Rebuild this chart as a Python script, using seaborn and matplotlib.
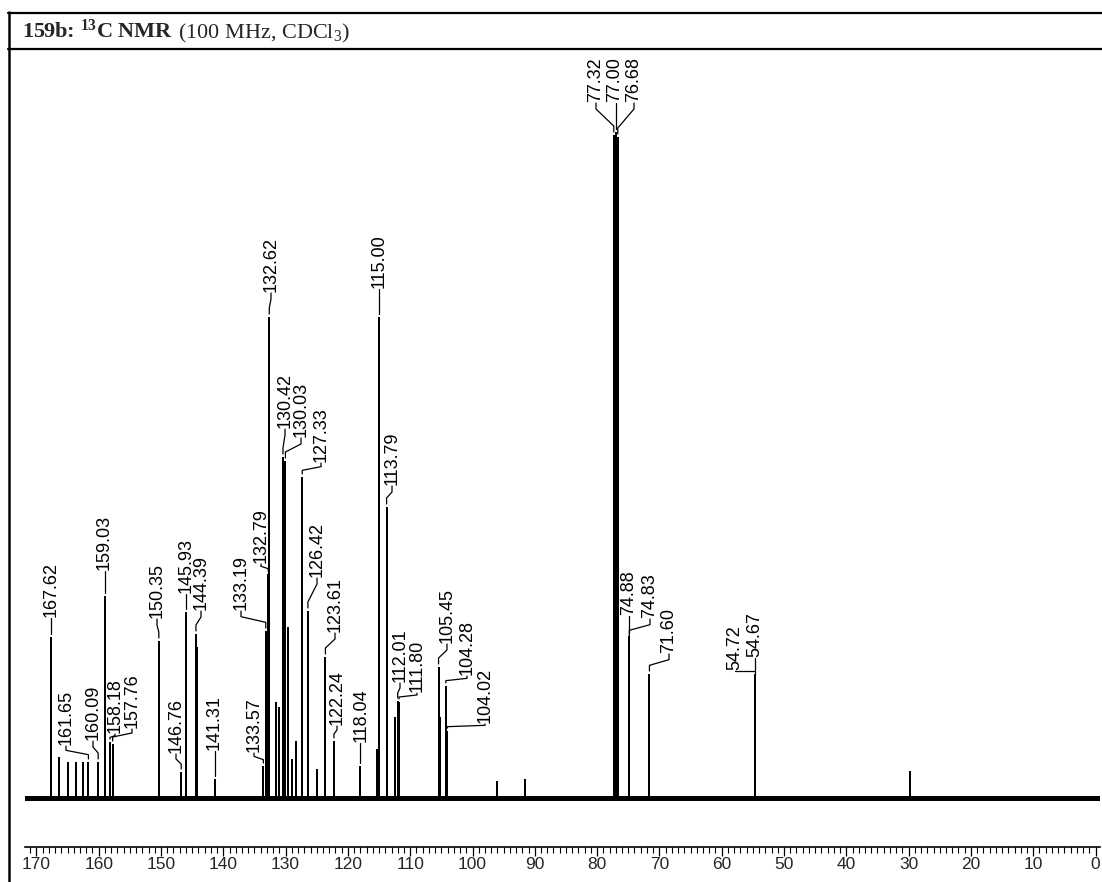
import matplotlib
matplotlib.use("Agg")
import matplotlib.pyplot as plt
import pandas as pd
import seaborn as sns
from matplotlib import font_manager
from matplotlib.lines import Line2D
from matplotlib.ticker import MultipleLocator

# labelled peaks: shift (ppm) and height above the baseline
peak_ppm = [167.62, 161.65, 160.09, 159.03, 158.18, 157.76, 150.35, 146.76,
            145.93, 144.39, 141.31, 133.57, 133.19, 132.79, 132.62, 130.42,
            130.03, 127.33, 126.42, 123.61, 122.24, 118.04, 115.00, 113.79,
            112.01, 111.80, 105.45, 104.28, 104.02, 77.32, 77.00, 76.68,
            74.88, 74.83, 71.60, 54.72, 54.67]
peak_height = [160, 35, 35, 201, 55, 53, 156, 25,
               185, 163, 18, 31, 166, 223, 480, 340,
               336, 320, 186, 140, 56, 31, 480, 290,
               96, 95, 130, 111, 66, 662, 665, 660,
               161, 158, 123, 123, 120]

# small peaks that carry no label
extra_ppm = [166.4, 164.9, 163.6, 162.6, 144.2, 131.6, 131.0, 129.6, 129.0,
             128.3, 125.0, 115.3, 112.5, 105.2, 96.1, 91.6, 29.7]
extra_height = [40, 35, 35, 35, 150, 95, 90, 170, 38,
                56, 28, 48, 80, 80, 16, 18, 26]

spectrum_range = [172.0, -0.8]
major_ticks = list(range(0, 180, 10))

# label layout, in pixels of the 1102x882 picture (text centre x, text bottom y)
label_x_px = [51, 66, 93, 104, 115, 132, 157, 176, 186, 201, 214, 254, 241,
              261, 271, 285, 301, 321, 317, 335, 337, 361, 379, 392, 400, 417,
              447, 467, 485, 596, 615, 634, 629, 650, 669, 735, 755]
label_y_px = [617, 745, 740, 570, 733, 728, 618, 753, 593, 610, 750, 752, 610,
              563, 292, 428, 437, 462, 577, 632, 725, 742, 288, 485, 682, 692,
              643, 675, 723, 102, 102, 102, 615, 618, 653, 670, 657]

W, H = 1102, 882
AX_L, AX_R, AX_B, AX_T = 25, 1100, 847, 50
BASE_PX = 798
PPM0_PX, PX_PER_PPM = 1095.5, 6.23


def px_to_ppm(px):
    return (PPM0_PX - px) / PX_PER_PPM


def px_to_y(py):
    return BASE_PX - py


def pick_font(names):
    for n in names:
        try:
            font_manager.findfont(font_manager.FontProperties(family=n),
                                  fallback_to_default=False)
            return n
        except ValueError:
            pass
    return "DejaVu Sans"


sns.set_theme(style="white")
narrow = pick_font(["Liberation Sans Narrow"])
if narrow == "Liberation Sans Narrow":
    sans, lab_size, tick_size = narrow, 15, 14.5
else:
    sans, lab_size, tick_size = "Liberation Sans", 13, 12.5

plt.rcParams["font.family"] = [sans, "DejaVu Sans"]
plt.rcParams["mathtext.fontset"] = "custom"
plt.rcParams["mathtext.rm"] = "Liberation Serif"
plt.rcParams["mathtext.bf"] = "Liberation Serif:bold"
plt.rcParams["mathtext.it"] = "Liberation Serif:italic"

fig = plt.figure(figsize=(W / 100, H / 100), dpi=100)
ax = fig.add_axes([AX_L / W, (H - AX_B) / H, (AX_R - AX_L) / W, (AX_B - AX_T) / H])

# stick spectrum built from the peak lists
all_peaks = sorted(zip(peak_ppm + extra_ppm, peak_height + extra_height),
                   key=lambda t: -t[0])
xs, ys = [spectrum_range[0]], [0]
for p, h in all_peaks:
    xs += [p, p, p]
    ys += [0, h, 0]
xs.append(spectrum_range[1])
ys.append(0)
spec = pd.DataFrame({"ppm": xs, "intensity": ys})

ax.plot(spectrum_range, [0, 0], color="black", lw=3.6, solid_capstyle="butt")
sns.lineplot(data=spec, x="ppm", y="intensity", sort=False, estimator=None,
             color="black", lw=1.4, ax=ax)

# labels with leader lines
for val, h, tx, ty in zip(peak_ppm, peak_height, label_x_px, label_y_px):
    lx = px_to_ppm(tx)
    ly = px_to_y(ty)
    ax.text(lx, ly, f"{val:.2f}", rotation=90, ha="center", va="bottom",
            fontsize=lab_size, color="black")
    top = ly - 1
    end = h + 4
    if abs(lx - val) * PX_PER_PPM < 1.5:
        ax.plot([val, val], [top, end], color="black", lw=0.9)
    else:
        seg = min(6, (top - end) / 3)
        ax.plot([lx, lx, val, val], [top, top - seg, end + seg, end],
                color="black", lw=0.9)

ax.set_xlim(px_to_ppm(AX_L), px_to_ppm(AX_R))
ax.set_ylim(px_to_y(AX_B), px_to_y(AX_T))
ax.set_xticks(major_ticks)
ax.xaxis.set_minor_locator(MultipleLocator(1))
ax.set_yticks([])
ax.set_xlabel("")
ax.set_ylabel("")
for s in ["top", "left", "right"]:
    ax.spines[s].set_visible(False)
ax.spines["bottom"].set_linewidth(1.2)
ax.spines["bottom"].set_color("black")
ax.tick_params(axis="x", which="major", direction="out", length=6.5, width=0.9,
               color="black", labelsize=tick_size, pad=1, bottom=True)
ax.tick_params(axis="x", which="minor", direction="out", length=4, width=0.8,
               color="black", bottom=True)
ax.patch.set_alpha(0)

# title box
fig.add_artist(Line2D([8 / W, 1], [1 - 13 / H, 1 - 13 / H], color="black", lw=1.6))
fig.add_artist(Line2D([8 / W, 1], [1 - 49 / H, 1 - 49 / H], color="black", lw=1.6))
fig.add_artist(Line2D([9 / W, 9 / W], [1 - 12 / H, 0], color="black", lw=1.8))

t1 = fig.text(22 / W, 1 - 38 / H, r"159b: $\mathbf{{}^{13}}$C NMR",
              family="Liberation Serif", fontweight="bold", fontsize=16,
              va="baseline", ha="left")
renderer = fig.canvas.get_renderer()
bb = t1.get_window_extent(renderer=renderer)
fig.text(bb.x1 / W + 5 / W, 1 - 38 / H, r"(100 MHz, CDCl$_{3}$)",
         family="Liberation Serif", fontsize=16, va="baseline", ha="left")

fig.savefig("out.png", dpi=100)
